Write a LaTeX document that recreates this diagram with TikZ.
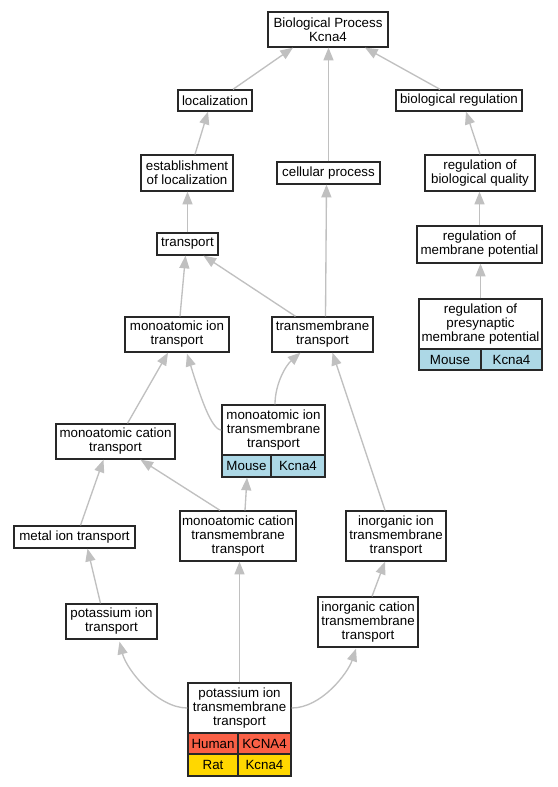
\documentclass[tikz,border=0pt]{standalone}
\usepackage{fontspec}
\setmainfont{Liberation Sans}
\usetikzlibrary{arrows.meta,calc}
\definecolor{edgegray}{RGB}{192,192,192}
\definecolor{boxline}{RGB}{40,40,40}
\definecolor{humanc}{RGB}{250,96,70}
\definecolor{ratc}{RGB}{255,215,0}
\definecolor{mousec}{RGB}{173,216,230}
\begin{document}
\begin{tikzpicture}[x=0.75pt,y=-0.75pt,
  sz/.style 2 args={minimum width=#1*0.75pt, minimum height=#2*0.75pt},
  box/.style={draw=boxline, line width=1pt, fill=white, inner sep=0pt, align=center,
    font=\fontsize{10}{10.5}\selectfont},
  cellbox/.style={box},
  edge/.style={draw=edgegray, line width=1pt, -{Triangle[length=9.5pt,width=7.5pt,fill=edgegray]}}]
\useasboundingbox (0,0) rectangle (557,787);
\fill[white] (0,0) rectangle (557,787);
% nodes
\node[box, sz={120}{35}] (bp) at (328,29.5) {Biological Process\\Kcna4};
\node[box, sz={74}{21}] (loc) at (215,100.5) {localization};
\node[box, sz={126}{21}] (breg) at (459,100.5) {biological regulation};
\node[box, sz={92}{36}] (est) at (187,173) {establishment\\of localization};
\node[box, sz={103}{22}] (cell) at (328.5,173) {cellular process};
\node[box, sz={110}{36}] (rbq) at (480,173) {regulation of\\biological quality};
\node[box, sz={61}{22}] (tr) at (187.5,244) {transport};
\node[box, sz={125}{37}] (rmp) at (479.5,244.5) {regulation of\\membrane potential};
\node[box, sz={104}{35}] (mit) at (177,334.5) {monoatomic ion\\transport};
\node[box, sz={101}{35}] (tmt) at (322.5,334.5) {transmembrane\\transport};
\node[box, sz={123}{50}] (presyn) at (480.5,324) {regulation of\\presynaptic\\membrane potential};
\node[cellbox, sz={62}{21}, fill=mousec] (presynA) at (450,359.5) {Mouse};
\node[cellbox, sz={61}{21}, fill=mousec] (presynB) at (511.5,359.5) {Kcna4};
\node[box, sz={103}{50}] (mitt) at (273.5,430) {monoatomic ion\\transmembrane\\transport};
\node[cellbox, sz={49}{22}, fill=mousec] (mittA) at (246.5,466) {Mouse};
\node[cellbox, sz={54}{22}, fill=mousec] (mittB) at (298,466) {Kcna4};
\node[box, sz={119}{35}] (mct) at (115.5,441.5) {monoatomic cation\\transport};
\node[box, sz={121}{22}] (metal) at (74.5,537) {metal ion transport};
\node[box, sz={116}{50}] (mctt) at (238,536) {monoatomic cation\\transmembrane\\transport};
\node[box, sz={100}{50}] (iitt) at (396,536) {inorganic ion\\transmembrane\\transport};
\node[box, sz={91}{35}] (kt) at (111.5,621.5) {potassium ion\\transport};
\node[box, sz={100}{50}] (ictt) at (368,622) {inorganic cation\\transmembrane\\transport};
\node[box, sz={103}{50}] (ktt) at (239.5,708) {potassium ion\\transmembrane\\transport};
\node[cellbox, sz={50}{21}, fill=humanc] (kttA) at (213,743.5) {Human};
\node[cellbox, sz={53}{21}, fill=humanc] (kttB) at (264.5,743.5) {KCNA4};
\node[cellbox, sz={50}{22}, fill=ratc] (kttC) at (213,765) {Rat};
\node[cellbox, sz={53}{22}, fill=ratc] (kttD) at (264.5,765) {Kcna4};
% edges
\draw[edge] ($(loc.north)+(18,0)$) -- ($(bp.south)+(-35,0)$);
\draw[edge] (cell.north) -- (cell.north |- bp.south);
\draw[edge] ($(breg.north)+(-19,0)$) -- ($(bp.south)+(37,0)$);
\draw[edge] ($(est.north)+(8,0)$) -- ($(loc.south)+(-7,0)$);
\draw[edge] (tr.north) -- (tr.north |- est.south);
\draw[edge] ($(tmt.north)+(-27,0)$) -- ($(tr.south)+(16,0)$);
\draw[edge] ($(mit.north)+(3,0)$) -- ($(tr.south)+(-2,0)$);
\draw[edge] ($(tmt.north)+(3,0)$) -- ($(cell.south)+(-2,0)$);
\draw[edge] (rbq.north) -- ($(breg.south)+(7,0)$);
\draw[edge] (rmp.north) -- (rmp.north |- rbq.south);
\draw[edge] (presyn.north) -- (presyn.north |- rmp.south);
\draw[edge] (mitt.west) .. controls ($(mitt.west)+(-10,0)$) and ($(mit.south)+(23,43)$) .. ($(mit.south)+(10,1)$);
\draw[edge] ($(mitt.north)+(1.5,0)$) .. controls ($(mitt.north)+(1.5,-20)$) and ($(tmt.south)+(-37,13)$) .. ($(tmt.south)+(-22,0)$);
\draw[edge] ($(mct.north)+(12,0)$) -- ($(mit.south)+(-9,0)$);
\draw[edge] ($(metal.north)+(6,0)$) -- ($(mct.south)+(-12,0)$);
\draw[edge] ($(mctt.north)+(-18,0)$) -- ($(mct.south)+(25,0)$);
\draw[edge] ($(mctt.north)+(7,0)$) -- ($(mittA.south)+(0.5,0)$);
\draw[edge] ($(iitt.north)+(-11,0)$) -- ($(tmt.south)+(10,0)$);
\draw[edge] ($(kt.north)+(-11,0)$) -- ($(metal.south)+(13,0)$);
\draw[edge] ($(ictt.north)+(4,0)$) -- ($(iitt.south)+(-11,0)$);
\draw[edge] (ktt.west) .. controls ($(ktt.west)+(-30,0)$) and ($(kt.south)+(15,30)$) .. ($(kt.south)+(8,2)$);
\draw[edge] (ktt.north) -- (ktt.north |- mctt.south);
\draw[edge] (ktt.east) .. controls ($(ktt.east)+(30,0)$) and ($(ictt.south)+(-20,25)$) .. ($(ictt.south)+(-12,1)$);
\end{tikzpicture}
\end{document}
